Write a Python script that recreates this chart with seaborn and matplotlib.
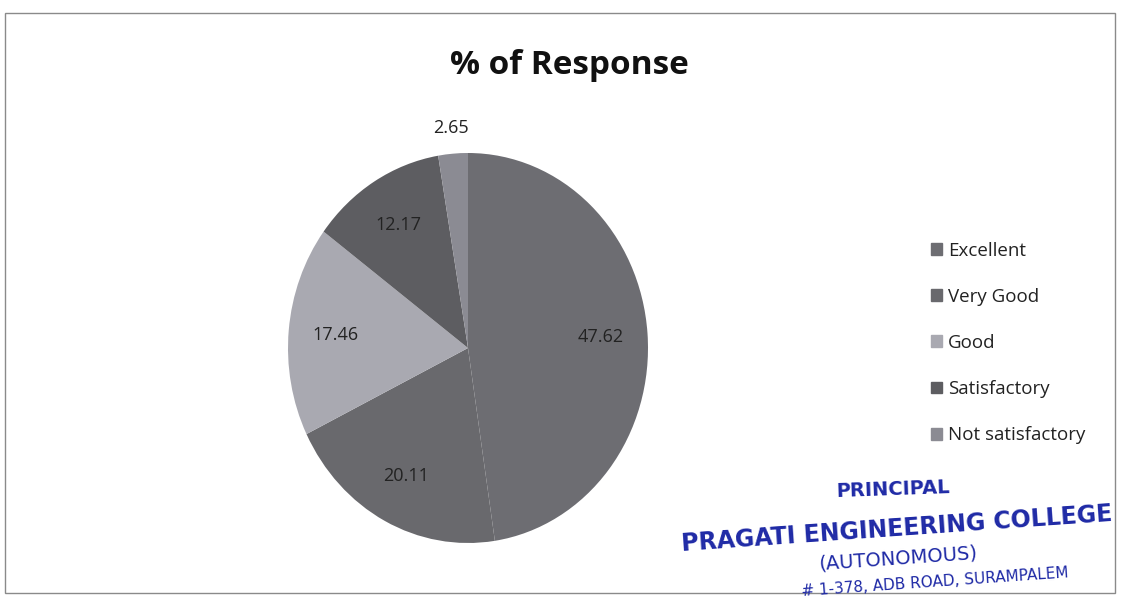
import numpy as np
import matplotlib
matplotlib.use("Agg")
import matplotlib.pyplot as plt
import seaborn as sns

# data
categories = ["Excellent", "Very Good", "Good", "Satisfactory", "Not satisfactory"]
values = [47.62, 20.11, 17.46, 12.17, 2.65]
labels = ["47.62", "20.11", "17.46", "12.17", "2.65"]

colors = ["#6d6d72", "#69696d", "#a9a9b1", "#5d5d61", "#8b8b93"]

sns.set_theme(style="white")
plt.rcParams['font.family'] = ['Open Sans', 'DejaVu Sans']

fig = plt.figure(figsize=(11.23, 6.07), dpi=100)
fig.patch.set_facecolor("white")

# outer chart frame
frame = plt.Rectangle((5 / 1123, 14 / 607), 1110 / 1123, 580 / 607, transform=fig.transFigure,
                      fill=False, edgecolor="#8a8a8a", linewidth=1.0)
fig.add_artist(frame)

fig.text(569 / 1123, 1 - 66 / 607, "% of Response", ha="center", va="center",
         fontsize=24, fontweight="bold", color="#111111")

ax = fig.add_axes([288 / 1123, 64 / 607, 360 / 1123, 390 / 607])
wedges, _ = ax.pie(values, colors=colors, startangle=90, counterclock=False,
                   wedgeprops=dict(linewidth=0))
ax.set_xlim(-1, 1)
ax.set_ylim(-1, 1)
ax.set_aspect("auto")
ax.axis("off")

# data labels at wedge midpoints
for w, lab in zip(wedges, labels):
    mid = np.deg2rad((w.theta1 + w.theta2) / 2)
    r = 1.13 if lab == "2.65" else 0.74
    ax.text(r * np.cos(mid), r * np.sin(mid), lab, ha="center", va="center",
            fontsize=13, color="#222222")

handles = [plt.Rectangle((0, 0), 1, 1, color=c) for c in colors]
fig.legend(handles, categories, loc="center left", bbox_to_anchor=(914 / 1123, 1 - 343 / 607),
           frameon=False, fontsize=13.5, labelspacing=1.5, handlelength=0.6, handleheight=0.6,
           handletextpad=0.3, labelcolor="#222222")

# principal stamp
stamp = "#1f2aa6"
fig.text(893 / 1123, 1 - 490 / 607, "PRINCIPAL", ha="center", va="center", fontsize=14,
         fontweight="bold", color=stamp, rotation=2, family="DejaVu Sans")
fig.text(897 / 1123, 1 - 529 / 607, "PRAGATI ENGINEERING COLLEGE", ha="center", va="center",
         fontsize=17, fontweight="bold", color=stamp, rotation=4, family="DejaVu Sans")
fig.text(898 / 1123, 1 - 558 / 607, "(AUTONOMOUS)", ha="center", va="center", fontsize=14,
         color=stamp, rotation=4, family="DejaVu Sans")
fig.text(935 / 1123, 1 - 582 / 607, "# 1-378, ADB ROAD, SURAMPALEM", ha="center", va="center",
         fontsize=11, color=stamp, rotation=4, family="DejaVu Sans")

fig.savefig("out.png", dpi=100, facecolor="white")
